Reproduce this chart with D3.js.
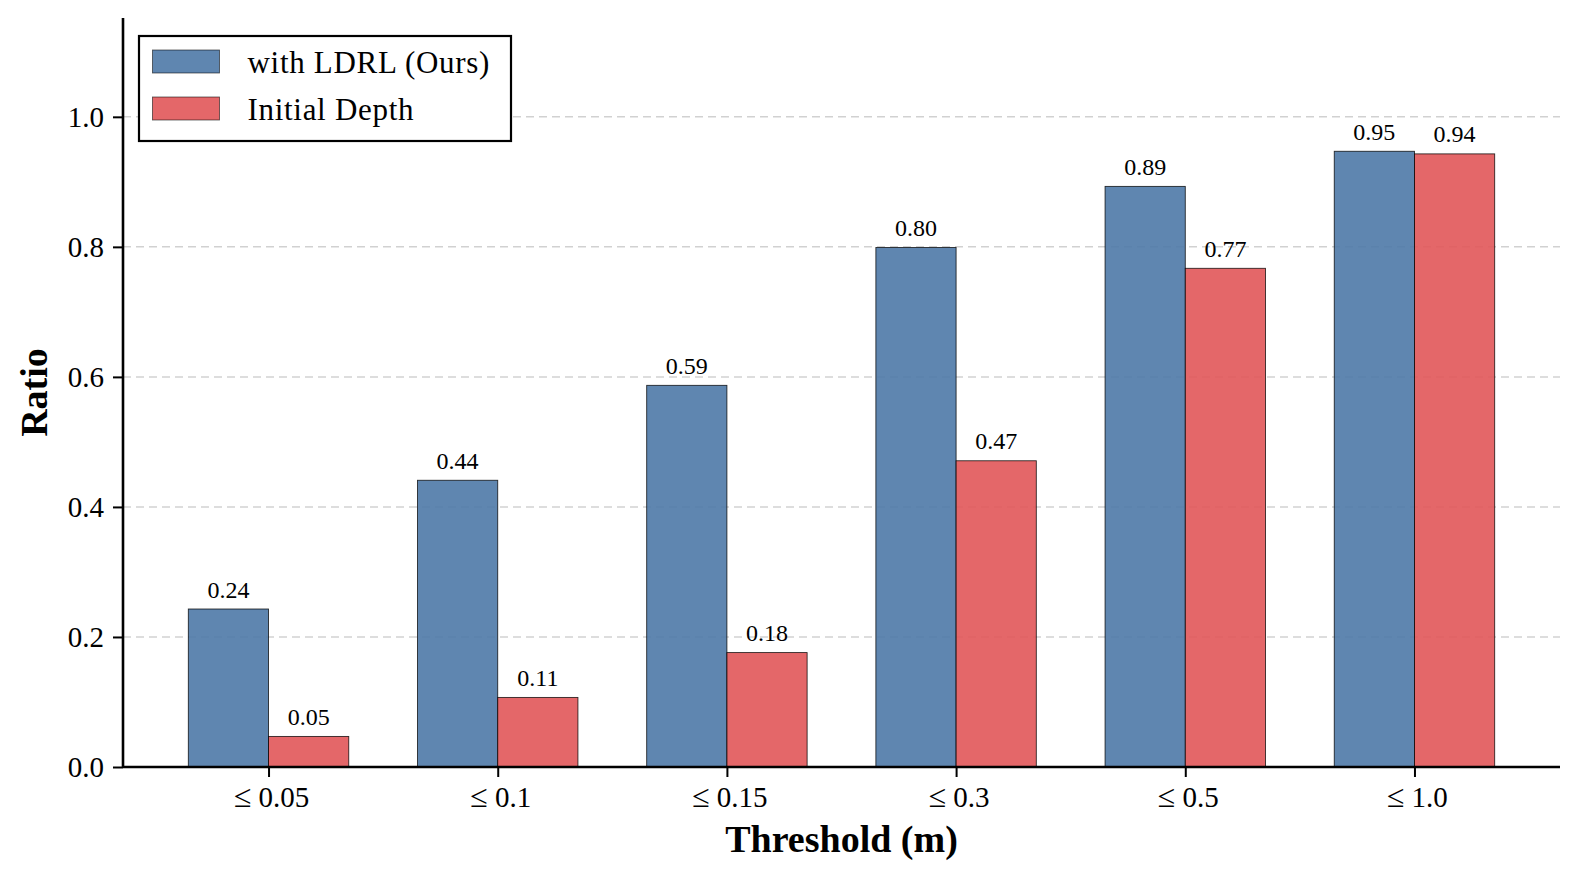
<!DOCTYPE html>
<html>
<head>
<meta charset="utf-8">
<script src="https://cdn.jsdelivr.net/npm/d3@7"></script>
<style>
  html, body { margin: 0; padding: 0; background: #fff; }
  svg text { font-family: "Liberation Serif", "Times New Roman", Times, serif; fill: #000; }
</style>
</head>
<body>
<svg id="chart" width="1580" height="880"></svg>
<script>
const categories = ["0.05", "0.1", "0.15", "0.3", "0.5", "1.0"];
const ldrlValues = [0.243, 0.441, 0.587, 0.799, 0.893, 0.947];
const initialValues = [0.047, 0.107, 0.176, 0.471, 0.767, 0.943];
const seriesNames = ["with LDRL (Ours)", "Initial Depth"];
const seriesColors = ["#4E79A7", "#E15759"];
const yTicks = [0.0, 0.2, 0.4, 0.6, 0.8, 1.0];

(function () {
const svg = d3.select("#chart");
const pL = 123, pR = 1560, pT = 18, pB = 767;
const barW = 0.35;

const x = d3.scaleLinear().domain([-0.635, categories.length - 1 + 0.635]).range([pL, pR]);
const y = d3.scaleLinear().domain([0, 1.152]).range([pB, pT]);

// grid
svg.append("g").selectAll("line").data(yTicks.filter(d => d > 0)).join("line")
  .attr("x1", pL).attr("x2", pR)
  .attr("y1", d => y(d)).attr("y2", d => y(d))
  .attr("stroke", "#bdbdbd").attr("stroke-opacity", 0.7)
  .attr("stroke-width", 1.5).attr("stroke-dasharray", "8,5");

const series = [ldrlValues, initialValues];
series.forEach((vals, si) => {
  const off = si === 0 ? -barW : 0;
  const g = svg.append("g");
  g.selectAll("rect").data(vals).join("rect")
    .attr("x", (d, i) => x(i + off))
    .attr("width", (d, i) => x(i + off + barW) - x(i + off))
    .attr("y", d => y(d))
    .attr("height", d => y(0) - y(d))
    .attr("fill", seriesColors[si]).attr("fill-opacity", 0.9)
    .attr("stroke", "#000").attr("stroke-opacity", 0.8).attr("stroke-width", 0.9);
  g.selectAll("text").data(vals).join("text")
    .attr("x", (d, i) => x(i + off + barW / 2))
    .attr("y", d => y(d) - 11.5)
    .attr("text-anchor", "middle")
    .attr("font-size", 24)
    .text(d => d.toFixed(2));
});

// y axis
const yAxis = svg.append("g").attr("transform", `translate(${pL},0)`)
  .call(d3.axisLeft(y).tickValues(yTicks).tickFormat(d3.format(".1f")).tickSize(10).tickPadding(9));
yAxis.select(".domain").attr("d", `M0,${pT}V${pB}`).attr("stroke-width", 2.6).attr("stroke", "#000");
yAxis.selectAll(".tick line").attr("stroke-width", 2).attr("stroke", "#000");
yAxis.selectAll(".tick text").attr("font-size", 29).attr("font-family", '"Liberation Serif", serif').attr("fill", "#000");

// x axis
const xAxis = svg.append("g").attr("transform", `translate(0,${pB})`)
  .call(d3.axisBottom(x).tickValues(d3.range(categories.length)).tickFormat(() => "").tickSize(10));
xAxis.select(".domain").attr("d", `M${pL},0H${pR}`).attr("stroke-width", 2.6).attr("stroke", "#000");
xAxis.selectAll(".tick line").attr("stroke-width", 2).attr("stroke", "#000");
xAxis.selectAll(".tick").each(function(d, i) {
  const t = d3.select(this).append("text")
    .attr("x", 2.5).attr("y", 40).attr("text-anchor", "middle")
    .attr("font-size", 29).attr("fill", "#000")
    .style("font-family", '"Liberation Serif", serif');
  t.append("tspan").attr("font-size", 32).text("\u2264");
  t.append("tspan").attr("dx", 7).text(categories[i]);
});

// axis labels
svg.append("text").attr("x", (pL + pR) / 2).attr("y", 852)
  .attr("text-anchor", "middle").attr("font-size", 38).attr("font-weight", "bold")
  .text("Threshold (m)");
svg.append("text").attr("transform", `translate(47,${(pT + pB) / 2}) rotate(-90)`)
  .attr("text-anchor", "middle").attr("font-size", 38).attr("font-weight", "bold")
  .text("Ratio");

// legend
const lg = svg.append("g");
lg.append("rect").attr("x", 139).attr("y", 36).attr("width", 372).attr("height", 105)
  .attr("fill", "#fff").attr("stroke", "#000").attr("stroke-width", 2.2);
seriesNames.forEach((name, i) => {
  lg.append("rect").attr("x", 152.5).attr("y", 50 + i * 47).attr("width", 67).attr("height", 23)
    .attr("fill", seriesColors[i]).attr("fill-opacity", 0.9)
    .attr("stroke", "#000").attr("stroke-opacity", 0.6).attr("stroke-width", 0.9);
  lg.append("text").attr("x", 247.5).attr("y", 72.5 + i * 47)
    .attr("font-size", 31).attr("letter-spacing", 0.7).text(name);
});
})();
</script>
</body>
</html>
